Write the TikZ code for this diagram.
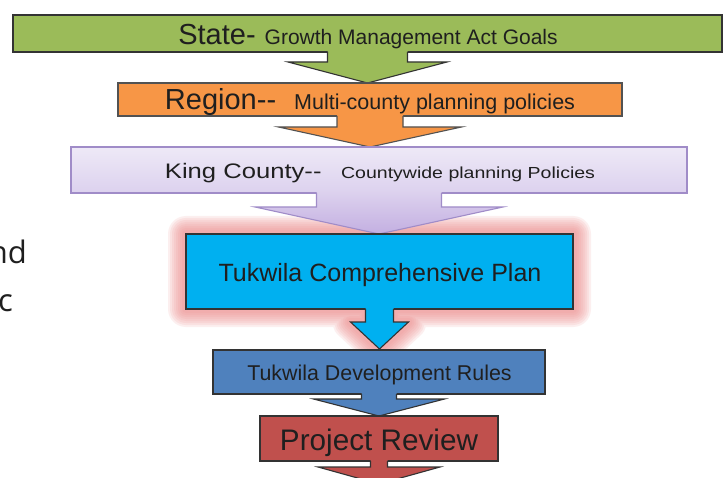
\documentclass[tikz,border=0pt]{standalone}
\usepackage{fontspec}
\setmainfont{Liberation Sans}
\newfontfamily\leftfont{Open Sans}
\usetikzlibrary{calc}
\definecolor{stgreen}{HTML}{9BBB59}
\definecolor{rgorange}{HTML}{F79646}
\definecolor{kctop}{HTML}{EEE9F7}
\definecolor{kcmid}{HTML}{DCD1EE}
\definecolor{kcbot}{HTML}{C3AFE1}
\definecolor{kcline}{HTML}{A08CC8}
\definecolor{cpblue}{HTML}{00B0F0}
\definecolor{dvblue}{HTML}{4F81BD}
\definecolor{prred}{HTML}{C0504D}
\definecolor{glowred}{HTML}{EE8A8A}
\definecolor{edge}{HTML}{333333}
\definecolor{ink}{HTML}{1F1F1F}
\newcommand\blkarrow[7]{% node, fill opts, line color, stem half, shoulder dy, head half, tip dy
  \path[#2] ($(#1.south)+(-#4,-0.8)$) -- ($(#1.south)+(-#4,#5)$) -- ($(#1.south)+(-#6,#5)$)
    -- ($(#1.south)+(0,#7)$) -- ($(#1.south)+(#6,#5)$) -- ($(#1.south)+(#4,#5)$)
    -- ($(#1.south)+(#4,-0.8)$) -- cycle;
  \draw[draw=#3, line width=1.1pt, line join=miter] ($(#1.south)+(-#4,0)$) -- ($(#1.south)+(-#4,#5)$) -- ($(#1.south)+(-#6,#5)$)
    -- ($(#1.south)+(0,#7)$) -- ($(#1.south)+(#6,#5)$) -- ($(#1.south)+(#4,#5)$)
    -- ($(#1.south)+(#4,0)$);
}
\tikzset{
  blk/.style={draw=edge, line width=1.1pt, outer sep=0pt, inner sep=0pt},
  txt/.style={inner sep=0pt, outer sep=0pt, text=ink, anchor=base},
}
\begin{document}
\begin{tikzpicture}[x=1pt, y=-1pt]
\useasboundingbox (0,0) rectangle (728,478);
\clip (0,0) rectangle (728,478);
\fill[white] (0,0) rectangle (728,478);

% glow behind comprehensive plan
\foreach \w in {36,32,28,24,20,16,12,8}{
  \draw[glowred, line width=\w pt, line join=round, opacity=0.13]
    (186,234) -- (573,234) -- (573,309) -- (393.5,309) -- (393.5,322) -- (408.5,322)
    -- (379.5,349) -- (350.5,322) -- (365.5,322) -- (365.5,309) -- (186,309) -- cycle;
}

% State
\node[blk, fill=stgreen, minimum width=709pt, minimum height=37pt] (state) at (367.5,33.5) {};
\blkarrow{state}{fill=stgreen}{edge}{40}{10}{79.5}{31}
% Region
\node[blk, fill=rgorange, draw=edge!85, minimum width=504pt, minimum height=33pt] (region) at (370,99.5) {};
\blkarrow{region}{fill=rgorange}{edge!85}{33}{11}{91.5}{31}
% King County
\node[blk, draw=kcline, top color=kctop, bottom color=kcmid, minimum width=616pt, minimum height=46pt] (king) at (379,170) {};
\blkarrow{king}{top color=kcmid, bottom color=kcbot}{kcline}{62.5}{14}{124}{41}
% Comprehensive plan
\node[blk, fill=cpblue, minimum width=387pt, minimum height=75pt] (comp) at (379.5,271.5) {};
\blkarrow{comp}{fill=cpblue}{edge}{14}{13}{29}{40}
% Development rules
\node[blk, fill=dvblue, minimum width=332pt, minimum height=44pt] (dev) at (379,372) {};
\blkarrow{dev}{fill=dvblue}{edge}{17.5}{5}{65.5}{22}
% Project review
\node[blk, fill=prred, minimum width=238pt, minimum height=45pt] (proj) at (379,438.5) {};
\blkarrow{proj}{fill=prred}{edge}{8.5}{6}{61}{23}

% texts
\node[txt] (statetxt) at (368,45) {\fontsize{29}{30}\selectfont State-\hspace{9pt}\fontsize{21}{22}\selectfont Growth Management Act Goals};
\node[txt] (regiontxt) at (370,110) {\fontsize{29}{30}\selectfont Region-{}-\hspace{18pt}\fontsize{21.5}{22}\selectfont Multi-county planning policies};
\node[txt] (kingtxt) at (380,179) {\scalebox{1.22}[1]{\fontsize{21}{22}\selectfont King County-{}-\hspace{16pt}\fontsize{16}{17}\selectfont Countywide planning Policies}};
\node[txt] (comptxt) at (380,282) {\fontsize{25}{26}\selectfont Tukwila Comprehensive Plan};
\node[txt] (devtxt) at (379.5,380) {\fontsize{21.4}{22}\selectfont Tukwila Development Rules};
\node[txt] (projtxt) at (379,450) {\fontsize{29.7}{30}\selectfont Project Review};

% cut-off text at left
\node[inner sep=0pt, anchor=base east, text=ink] (ndtxt) at (27,264) {\leftfont\fontsize{31}{31}\selectfont nd};
\node[inner sep=0pt, anchor=base east, text=ink] (ctxt) at (13,312) {\leftfont\fontsize{31}{31}\selectfont c};
\end{tikzpicture}
\end{document}
